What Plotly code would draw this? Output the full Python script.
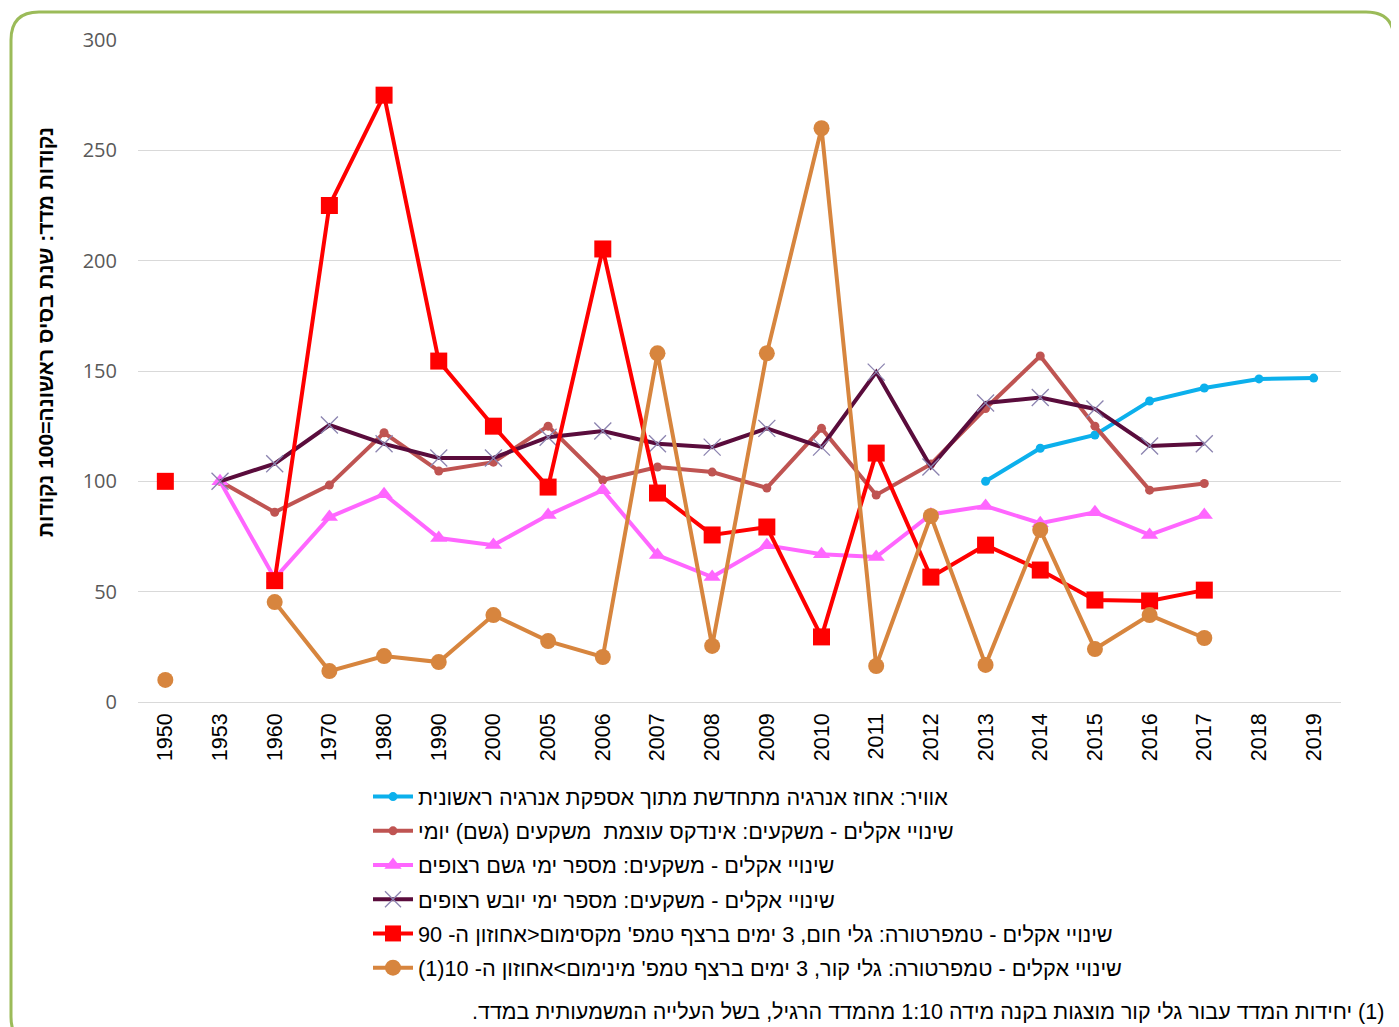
import plotly.graph_objects as go

years = ["1950", "1953", "1960", "1970", "1980", "1990", "2000", "2005", "2006", "2007",
         "2008", "2009", "2010", "2011", "2012", "2013", "2014", "2015", "2016", "2017",
         "2018", "2019"]

renewable = [None, None, None, None, None, None, None, None, None, None,
             None, None, None, None, None, 100, 115, 121, 136.4, 142.3, 146.4, 146.8]
rain_intensity = [None, 100, 86, 98.3, 122, 104.7, 108.7, 125, 100.6, 106.5,
                  104.2, 97, 124, 93.8, 107.8, 133, 156.8, 125, 96, 99, None, None]
rain_days = [None, 100, 56, 83.8, 94.2, 74.3, 71.1, 84.7, 96, 66.6,
             56.6, 71, 67, 65.7, 85, 88.8, 81, 86, 75.7, 84.7, None, None]
dry_days = [None, 100, 108, 125.5, 117, 110.6, 110.6, 120, 122.8, 117,
            115.5, 124, 115.5, 149.5, 106.5, 135.5, 138, 132.8, 116, 117, None, None]
heat_waves = [100, None, 55, 225, 275, 154.5, 125, 97.4, 205.3, 94.7,
              75.7, 79.3, 29.5, 112.8, 56.6, 71.1, 59.8, 46.2, 45.8, 50.7, None, None]
cold_waves = [10, None, 45.3, 14, 20.8, 18.1, 39.4, 27.6, 20.4, 158,
              25.4, 158, 260, 16.3, 84.3, 16.8, 78, 24, 39.4, 29, None, None]

names = [
    "אוויר: אחוז אנרגיה מתחדשת מתוך אספקת אנרגיה ראשונית",
    "שינויי אקלים - משקעים: אינדקס עוצמת  משקעים (גשם) יומי",
    "שינויי אקלים - משקעים: מספר ימי גשם רצופים",
    "שינויי אקלים - משקעים: מספר ימי יובש רצופים",
    "שינויי אקלים - טמפרטורה: גלי חום, 3 ימים ברצף טמפ' מקסימום<אחוזון ה- 90",
    "שינויי אקלים - טמפרטורה: גלי קור, 3 ימים ברצף טמפ' מינימום>אחוזון ה- 10(1)",
]
y_title = "נקודות מדד: שנת בסיס ראשונה=100 נקודות"
footnote = "(1) יחידות המדד עבור גלי קור מוצגות בקנה מידה 1:10 מהמדד הרגיל, בשל העלייה המשמעותית במדד."


def rtl(s):
    # right-to-left embedding so the Hebrew text lays out as an RTL paragraph
    return "\u202b" + s + "\u202c"


# page body has an 8px margin; figure is sized to fill the rest of the window
OFF = 8
W, H = 1399 - OFF, 1027 - OFF
L, R, T, B = 130, 58, 32, 325
PW, PH = W - L - R, H - T - B


def px(x):
    # x given in window pixels
    return (x - OFF - L) / PW


def py(y):
    return (H - B - (y - OFF)) / PH


fig = go.Figure()

series = [
    (renewable, "#0cb0ec", dict(symbol="circle", size=9, color="#0cb0ec")),
    (rain_intensity, "#bf5452", dict(symbol="circle", size=9, color="#bf5452")),
    (rain_days, "#ff66ff", dict(symbol="triangle-up", size=15, color="#ff66ff")),
    (dry_days, "#5a0c3c", dict(symbol="x-thin", size=17, color="#8c84b0",
                                line=dict(width=1.3, color="#8c84b0"))),
    (heat_waves, "#ff0000", dict(symbol="square", size=17, color="#ff0000")),
    (cold_waves, "#d7853e", dict(symbol="circle", size=16, color="#d7853e")),
]

for i, (vals, col, mk) in enumerate(series):
    fig.add_trace(go.Scatter(
        x=years, y=vals, name=rtl(names[i]), mode="lines+markers",
        line=dict(color=col, width=4), marker=mk, connectgaps=False,
        legendgroup=f"g{i}",
    ))

HEB = "Liberation Sans, Arial, sans-serif"

fig.update_layout(
    width=W, height=H,
    margin=dict(l=L, r=R, t=T, b=B),
    paper_bgcolor="white", plot_bgcolor="white",
    font=dict(family=HEB, color="black"),
    showlegend=True,
    legend=dict(
        x=px(368), y=py(776), xanchor="left", yanchor="top",
        orientation="v", font=dict(size=21.7, color="black", family=HEB),
        tracegroupgap=3, itemwidth=40, bgcolor="rgba(0,0,0,0)",
    ),
    xaxis=dict(
        type="category", categoryorder="array", categoryarray=years,
        range=[-0.5, len(years) - 0.5],
        tickangle=-90, tickfont=dict(size=21.5, color="black", family=HEB),
        showgrid=False, showline=False, ticks="", ticklabelstandoff=6,
    ),
    yaxis=dict(
        range=[0, 300], tickvals=[0, 50, 100, 150, 200, 250, 300],
        tickfont=dict(size=20, color="#595959", family="Open Sans, Arial"),
        gridcolor="#d9d9d9", gridwidth=1, zeroline=True, zerolinecolor="#d9d9d9",
        zerolinewidth=1, showline=False, ticks="", ticklabelstandoff=20,
    ),
    annotations=[
        dict(text="<b>" + rtl(y_title) + "</b>", textangle=-90, x=px(45), y=py(332),
             xref="paper", yref="paper",
             showarrow=False, font=dict(size=21, color="black", family=HEB),
             xanchor="center", yanchor="middle"),
        dict(text=rtl(footnote), x=px(1386), y=py(1012), xref="paper", yref="paper",
             showarrow=False, xanchor="right", yanchor="middle",
             font=dict(size=21.5, color="black", family=HEB)),
    ],
)

# rounded green frame
x0, x1, y0, y1 = px(11), px(1394), py(1045), py(12)
rx, ry = 28 / PW, 28 / PH
path = (f"M {x0},{y1 - ry} Q {x0},{y1} {x0 + rx},{y1} "
        f"L {x1 - rx},{y1} Q {x1},{y1} {x1},{y1 - ry} "
        f"L {x1},{y0 + ry} Q {x1},{y0} {x1 - rx},{y0} "
        f"L {x0 + rx},{y0} Q {x0},{y0} {x0},{y0 + ry} Z")
fig.add_shape(type="path", path=path, xref="paper", yref="paper",
              line=dict(color="#9bbb59", width=3), layer="below")

fig.write_html("out.html")
